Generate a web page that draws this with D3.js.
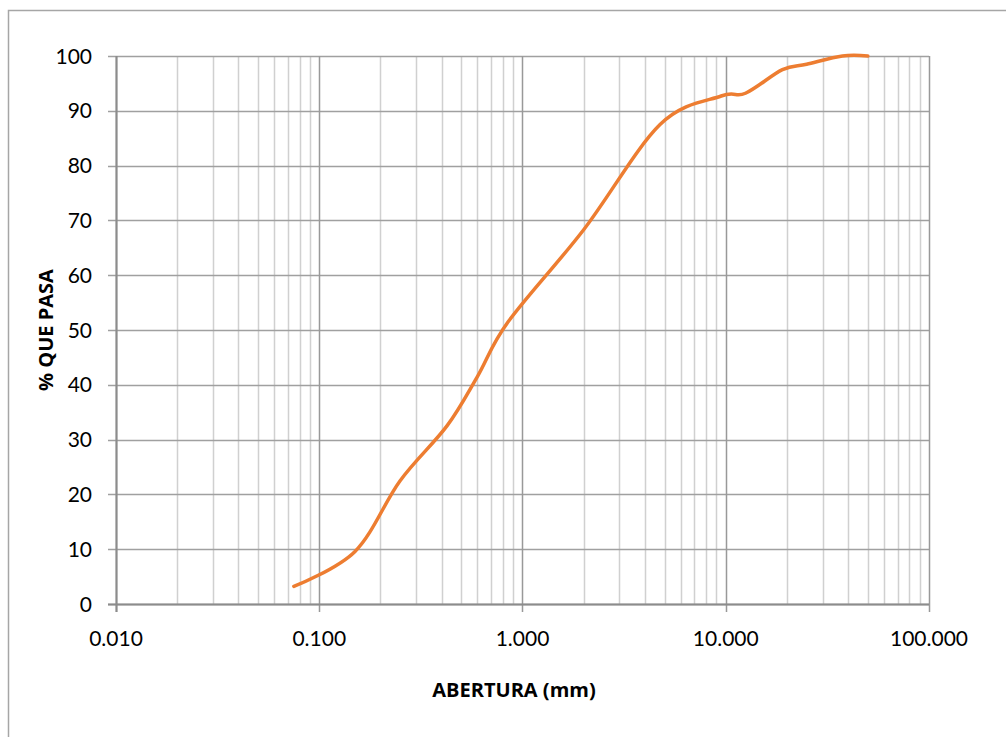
<!DOCTYPE html>
<html>
<head>
<meta charset="utf-8">
<script src="https://cdn.jsdelivr.net/npm/d3@7"></script>
<style>
  body { margin: 0; background: #fff; }
  text { font-family: Lato, "Open Sans", sans-serif; fill: #000; }
  .title { font-family: "Open Sans", Lato, sans-serif; font-weight: bold; }
</style>
</head>
<body>
<div id="app"></div>
<script>
// sieve openings (mm) and % passing
const sieveSizes = [0.075, 0.15, 0.25, 0.425, 0.6, 0.85, 2.0, 4.75, 9.5, 12.5, 19.0, 25.0, 37.5, 50.0];
const percentPassing = [3.2, 9.6, 22.5, 32.5, 41.5, 51.5, 68.3, 87.5, 92.7, 93.2, 97.5, 98.5, 100, 100];
const xTickValues = [0.01, 0.1, 1, 10, 100];
const xTickLabels = ["0.010", "0.100", "1.000", "10.000", "100.000"];
const yTickValues = [0, 10, 20, 30, 40, 50, 60, 70, 80, 90, 100];

let width = 1006,
    height = 737;

const x = d3.scaleLog().domain([0.01, 100]).range([116, 929]);
const y = d3.scaleLinear().domain([0, 100]).range([604, 56]);

const svg = d3.select("#app").append("svg")
    .attr("width", width)
    .attr("height", height);

// chart frame
svg.append("rect")
    .attr("x", 8.5).attr("y", 10.5)
    .attr("width", 1010).attr("height", 740)
    .attr("fill", "none")
    .attr("stroke", "#a6a6a6")
    .attr("stroke-width", 1.5);

const grid = svg.append("g");

// minor vertical lines
grid.selectAll(".minor")
    .data(x.ticks().filter(d => xTickValues.indexOf(d) < 0 && Math.abs(Math.log10(d) % 1) > 1e-9))
    .enter().append("line")
    .attr("x1", d => Math.round(x(d)) + 0.5).attr("x2", d => Math.round(x(d)) + 0.5)
    .attr("y1", y(100)).attr("y2", y(0))
    .attr("stroke", "#d0d0d0").attr("stroke-width", 1.5);

// horizontal lines
grid.selectAll(".hline")
    .data(yTickValues)
    .enter().append("line")
    .attr("x1", x(0.01) - 8).attr("x2", x(100))
    .attr("y1", d => Math.round(y(d)) + 0.5).attr("y2", d => Math.round(y(d)) + 0.5)
    .attr("stroke", "#a0a0a0").attr("stroke-width", 1.5);

// decade lines
grid.selectAll(".major")
    .data(xTickValues)
    .enter().append("line")
    .attr("x1", d => Math.round(x(d)) + 0.5).attr("x2", d => Math.round(x(d)) + 0.5)
    .attr("y1", y(100)).attr("y2", y(0) + 8)
    .attr("stroke", "#999").attr("stroke-width", 1.5);

// axis lines
svg.append("line")
    .attr("x1", x(0.01) + 0.5).attr("x2", x(0.01) + 0.5)
    .attr("y1", y(100)).attr("y2", y(0) + 8)
    .attr("stroke", "#8c8c8c").attr("stroke-width", 2);
svg.append("line")
    .attr("x1", x(0.01) - 8).attr("x2", x(100))
    .attr("y1", y(0) + 0.5).attr("y2", y(0) + 0.5)
    .attr("stroke", "#8c8c8c").attr("stroke-width", 2);

// tick labels
svg.append("g").selectAll("text")
    .data(yTickValues)
    .enter().append("text")
    .attr("x", 92)
    .attr("y", d => y(d))
    .attr("dy", "0.36em")
    .attr("text-anchor", "end")
    .style("font-size", "21px")
    .text(d => d);

svg.append("g").selectAll("text")
    .data(xTickValues)
    .enter().append("text")
    .attr("x", d => x(d))
    .attr("y", 646)
    .attr("text-anchor", "middle")
    .style("font-size", "21px")
    .text((d, i) => xTickLabels[i]);

// axis titles
svg.append("text")
    .attr("class", "title")
    .attr("x", 514)
    .attr("y", 697)
    .attr("text-anchor", "middle")
    .style("font-size", "20px")
    .text("ABERTURA (mm)");

svg.append("text")
    .attr("class", "title")
    .attr("transform", "translate(53," + (y(0) + y(100)) / 2 + ") rotate(-90)")
    .attr("text-anchor", "middle")
    .style("font-size", "20px")
    .text("% QUE PASA");

// gradation curve
const line = d3.line()
    .x(d => x(d[0]))
    .y(d => y(d[1]))
    .curve(d3.curveCardinal.tension(0));

svg.append("path")
    .datum(sieveSizes.map((s, i) => [s, percentPassing[i]]))
    .attr("d", line)
    .attr("fill", "none")
    .attr("stroke", "#ED7D31")
    .attr("stroke-width", 3.5)
    .attr("stroke-linecap", "round");
</script>
</body>
</html>
